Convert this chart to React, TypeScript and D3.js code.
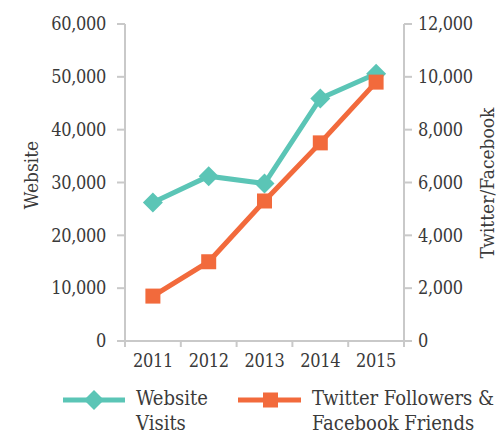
import React from "react";
import * as d3 from "d3";

const years = ["2011", "2012", "2013", "2014", "2015"];
const websiteVisits = [26200, 31200, 29800, 45900, 50600];
const socialFriends = [1700, 3000, 5300, 7500, 9800];
const leftTicks = [0, 10000, 20000, 30000, 40000, 50000, 60000];
const rightTicks = [0, 2000, 4000, 6000, 8000, 10000, 12000];

const TEAL = "#5bc5b6";
const ORANGE = "#f26a3c";
const AXIS = "#c9c9c9";
const TEXT = "#3a3a3a";
const FONT = "'DejaVu Serif Condensed', 'DejaVu Serif', serif";

export default function App() {
  const W = 501, H = 436;
  const x = d3.scaleBand<string>().domain(years).range([125, 404]);
  const yL = d3.scaleLinear().domain([0, 60000]).range([341, 24]);
  const yR = d3.scaleLinear().domain([0, 12000]).range([341, 24]);
  const fmt = d3.format(",");
  const cx = (d: string) => (x(d) as number) + x.bandwidth() / 2;

  const lineL = d3.line<number>().x((_, i) => cx(years[i])).y((v) => yL(v));
  const lineR = d3.line<number>().x((_, i) => cx(years[i])).y((v) => yR(v));

  const diamond = (px: number, py: number, r: number) =>
    `M${px},${py - r}L${px + r},${py}L${px},${py + r}L${px - r},${py}Z`;

  const boundaries = [...years.map((d) => x(d) as number), x.range()[1]];

  return (
    <svg width={W} height={H} style={{ position: "absolute", left: 0, top: 0 }}>
      <rect width={W} height={H} fill="#fff" />
      {/* axes */}
      <g stroke={AXIS} strokeWidth={2} fill="none">
        <line x1={125} x2={125} y1={yL(60000)} y2={347} />
        <line x1={404} x2={404} y1={yR(12000)} y2={347} />
        <line x1={125} x2={404} y1={yL(0)} y2={yL(0)} />
        {leftTicks.map((t) => (
          <line key={"lt" + t} x1={117} x2={125} y1={yL(t)} y2={yL(t)} />
        ))}
        {rightTicks.map((t) => (
          <line key={"rt" + t} x1={404} x2={412} y1={yR(t)} y2={yR(t)} />
        ))}
        {boundaries.map((b, i) => (
          <line key={"xt" + i} x1={b} x2={b} y1={yL(0)} y2={347} />
        ))}
      </g>
      <g fontFamily={FONT} fontSize={18} fill={TEXT} letterSpacing={-0.3}>
        {leftTicks.map((t) => (
          <text key={"ll" + t} x={106} y={yL(t)} dy="0.35em" textAnchor="end">
            {fmt(t)}
          </text>
        ))}
        {rightTicks.map((t) => (
          <text key={"rl" + t} x={418} y={yR(t)} dy="0.35em" textAnchor="start">
            {fmt(t)}
          </text>
        ))}
        {years.map((d) => (
          <text key={"yl" + d} x={cx(d)} y={367} textAnchor="middle">
            {d}
          </text>
        ))}
      </g>
      <g fontFamily={FONT} fontSize={19} fill={TEXT}>
        <text transform="translate(38,175) rotate(-90)" textAnchor="middle">
          Website
        </text>
        <text transform="translate(494,183) rotate(-90)" textAnchor="middle">
          Twitter/Facebook
        </text>
      </g>
      {/* series */}
      <path d={lineL(websiteVisits) || ""} fill="none" stroke={TEAL} strokeWidth={5} strokeLinejoin="miter" />
      {websiteVisits.map((v, i) => (
        <path key={"dm" + i} d={diamond(cx(years[i]), yL(v), 10)} fill={TEAL} />
      ))}
      <path d={lineR(socialFriends) || ""} fill="none" stroke={ORANGE} strokeWidth={5} strokeLinejoin="miter" />
      {socialFriends.map((v, i) => (
        <rect key={"sq" + i} x={cx(years[i]) - 7.5} y={yR(v) - 7.5} width={15} height={15} fill={ORANGE} />
      ))}
      {/* legend */}
      <line x1={63} x2={125} y1={400} y2={400} stroke={TEAL} strokeWidth={5} />
      <path d={diamond(94, 400, 10)} fill={TEAL} />
      <line x1={238} x2={301} y1={400} y2={400} stroke={ORANGE} strokeWidth={5} />
      <rect x={263} y={392.5} width={15} height={15} fill={ORANGE} />
      <g fontFamily={FONT} fontSize={20} fill={TEXT}>
        <text x={136} y={405}>Website</text>
        <text x={136} y={430}>Visits</text>
        <text x={312} y={405}>Twitter Followers &amp;</text>
        <text x={312} y={430}>Facebook Friends</text>
      </g>
    </svg>
  );
}
